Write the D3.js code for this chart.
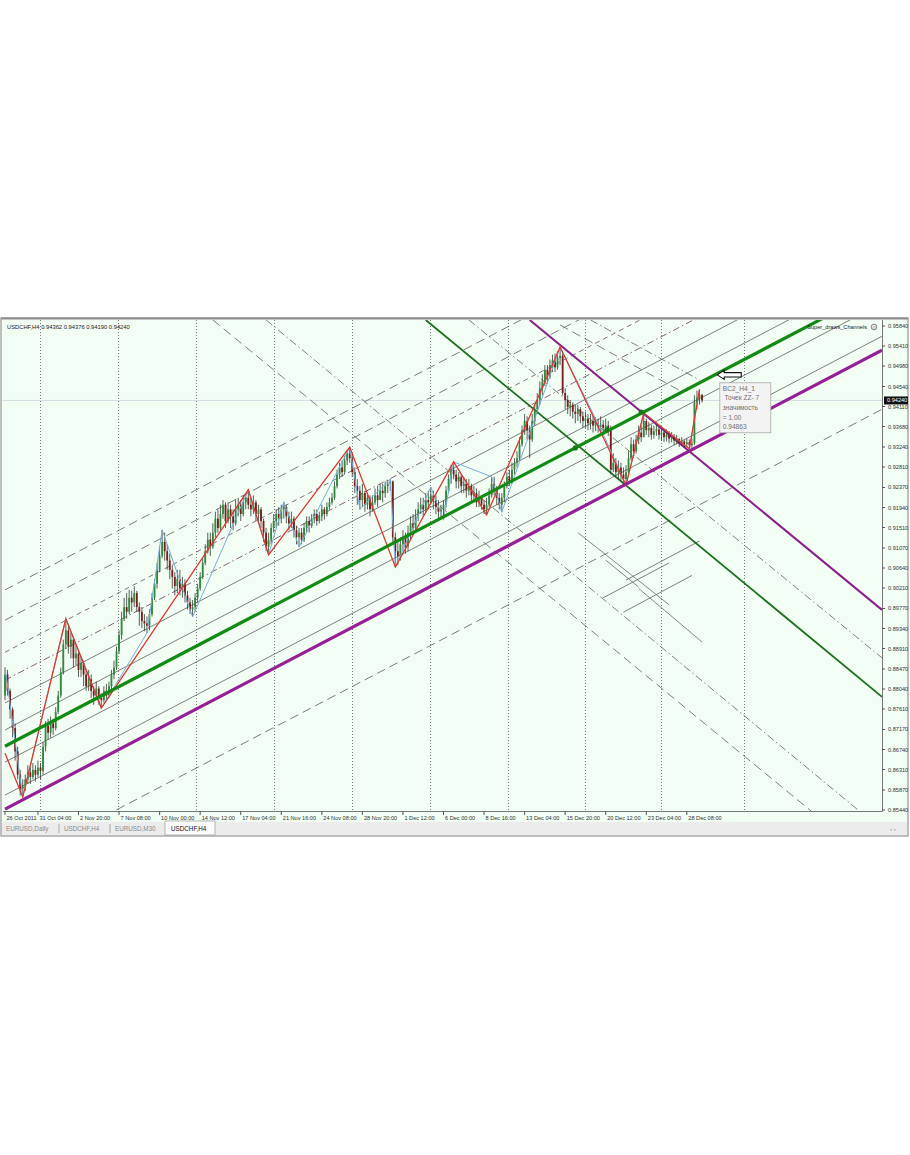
<!DOCTYPE html>
<html>
<head>
<meta charset="utf-8">
<script src="https://cdn.jsdelivr.net/npm/d3@7"></script>
<style>
body { margin: 0; background: #fff; }
text { font-family: "Liberation Sans", Arial, sans-serif; }
</style>
</head>
<body>
<svg id="chart" width="910" height="1155"></svg>
<script>
//Prices are kept in 1/10000 units (9424 = 0.94240)
const firstOpen = 8790
const closes = [
  8835,8800,8760,8720,8670,8620,8590,8595,8610,8625,
  8615,8630,8620,8635,8628,8680,8725,8710,8730,8720,
  8755,8790,8840,8900,8930,8895,8910,8870,8880,8845,
  8860,8835,8810,8825,8800,8790,8805,8785,8780,8800,
  8790,8810,8835,8850,8885,8920,8955,8980,8970,9000,
  8990,9010,8980,8970,8950,8945,8940,8965,9000,9030,
  9060,9090,9120,9100,9080,9060,9045,9025,9040,9020,
  9030,9005,8990,8975,8980,9000,9020,9045,9075,9100,
  9125,9110,9140,9170,9150,9180,9200,9165,9190,9175,
  9160,9190,9200,9180,9205,9215,9200,9190,9205,9180,
  9190,9165,9140,9110,9125,9150,9165,9180,9170,9190,
  9195,9175,9160,9170,9145,9130,9140,9125,9150,9165,
  9155,9170,9180,9165,9175,9190,9180,9195,9205,9215,
  9240,9265,9280,9270,9295,9310,9300,9270,9240,9230,
  9210,9225,9200,9215,9190,9205,9220,9210,9230,9225,
  9240,9245,9250,9130,9100,9090,9115,9130,9110,9140,
  9160,9150,9175,9190,9200,9190,9210,9205,9220,9210,
  9195,9185,9190,9200,9230,9255,9275,9265,9250,9260,
  9240,9245,9230,9240,9220,9225,9205,9215,9200,9190,
  9200,9220,9245,9230,9215,9200,9215,9240,9260,9250,
  9275,9290,9300,9330,9360,9380,9360,9340,9380,9405,
  9425,9450,9465,9490,9475,9500,9510,9495,9515,9520,
  9440,9425,9410,9415,9400,9395,9405,9390,9380,9385,
  9375,9380,9370,9375,9368,9372,9365,9370,9360,9275,
  9290,9270,9280,9265,9255,9270,9300,9330,9315,9340,
  9355,9345,9380,9360,9365,9350,9358,9362,9350,9355,
  9345,9350,9342,9346,9338,9342,9332,9336,9330,9334,
  9328,9332,9420,9430,9436,9424
]
const highs = [
  8850,8845,8805,8765,8730,8680,8630,8610,8620,8640,
  8635,8645,8640,8650,8645,8690,8735,8740,8745,8740,
  8765,8800,8850,8910,8955,8940,8925,8915,8900,8885,
  8875,8865,8845,8845,8835,8810,8820,8810,8795,8810,
  8815,8820,8845,8865,8895,8930,8970,9000,9010,9017,
  9015,9025,9015,8990,8980,8965,8960,8975,9010,9040,
  9075,9110,9146,9140,9115,9095,9070,9055,9060,9060,
  9045,9040,9015,9000,8995,9010,9030,9055,9085,9115,
  9140,9140,9160,9185,9190,9200,9210,9205,9205,9200,
  9190,9210,9215,9210,9220,9225,9232,9215,9220,9210,
  9200,9195,9170,9150,9140,9160,9180,9190,9195,9200,
  9206,9200,9185,9185,9175,9155,9150,9150,9160,9175,
  9175,9180,9190,9190,9185,9200,9195,9205,9215,9225,
  9250,9275,9290,9295,9305,9318,9324,9310,9280,9255,
  9240,9245,9230,9225,9220,9220,9235,9240,9245,9245,
  9250,9253,9255,9252,9140,9120,9130,9145,9140,9155,
  9175,9180,9190,9205,9215,9215,9225,9230,9238,9230,
  9220,9210,9200,9210,9240,9265,9285,9292,9275,9270,
  9265,9260,9255,9255,9245,9240,9235,9230,9220,9210,
  9215,9235,9260,9260,9240,9225,9225,9250,9270,9275,
  9290,9300,9315,9345,9370,9395,9390,9370,9395,9415,
  9440,9465,9480,9500,9500,9512,9522,9525,9530,9539,
  9525,9450,9435,9425,9420,9415,9415,9410,9400,9400,
  9395,9395,9390,9388,9385,9390,9382,9385,9380,9370,
  9310,9300,9295,9290,9280,9285,9315,9345,9340,9350,
  9370,9370,9397,9385,9378,9372,9370,9376,9368,9366,
  9360,9362,9358,9356,9352,9350,9342,9345,9340,9342,
  9340,9342,9435,9445,9448,9438
]
const lows = [
  8780,8790,8740,8700,8650,8610,8575,8572,8585,8600,
  8600,8610,8605,8615,8610,8620,8670,8695,8700,8705,
  8715,8750,8785,8835,8890,8880,8870,8850,8855,8830,
  8830,8810,8800,8800,8785,8770,8780,8770,8763,8775,
  8780,8785,8800,8825,8845,8880,8910,8950,8955,8965,
  8970,8980,8970,8940,8935,8928,8924,8930,8960,8995,
  9020,9055,9085,9080,9060,9040,9020,9005,9010,9005,
  9000,8990,8975,8965,8959,8970,8990,9015,9040,9070,
  9095,9090,9105,9130,9140,9145,9170,9150,9160,9150,
  9145,9155,9175,9165,9175,9190,9190,9175,9180,9165,
  9160,9150,9120,9100,9092,9115,9140,9150,9155,9160,
  9170,9160,9145,9150,9130,9115,9109,9115,9120,9140,
  9140,9150,9160,9155,9160,9165,9168,9175,9190,9200,
  9210,9235,9255,9260,9265,9285,9290,9260,9225,9200,
  9190,9195,9185,9190,9175,9185,9200,9195,9210,9205,
  9215,9225,9230,9120,9066,9070,9080,9100,9095,9100,
  9125,9135,9140,9165,9180,9175,9185,9190,9200,9190,
  9180,9170,9170,9167,9195,9225,9245,9255,9235,9235,
  9225,9225,9215,9220,9205,9205,9195,9195,9190,9180,
  9178,9195,9215,9220,9200,9190,9184,9205,9235,9240,
  9245,9265,9280,9295,9325,9350,9340,9300,9335,9370,
  9395,9415,9435,9455,9460,9470,9485,9485,9490,9500,
  9435,9405,9395,9390,9385,9375,9380,9375,9365,9365,
  9360,9362,9355,9358,9355,9358,9352,9355,9348,9265,
  9270,9260,9255,9250,9248,9242,9265,9295,9300,9310,
  9330,9335,9345,9350,9345,9340,9342,9348,9340,9338,
  9335,9336,9332,9334,9328,9330,9324,9326,9322,9324,
  9320,9322,9328,9405,9415,9419
]

//Zigzag turning points [bar, price]
const redZigzag = [[0,8666],[7,8572],[24,8955],[38,8763],[96,9232],[104,9092],[136,9324],
  [154,9066],[177,9292],[190,9178],[219,9539],[245,9242],[252,9397],[270,9320],[274,9448]]
const blueZigzag = [[0,8851],[7,8572],[24,8955],[38,8763],[56,8924],[62,9146],[74,8959],
  [96,9232],[104,9092],[110,9206],[116,9109],[136,9324],[140,9190],[152,9255],[154,9066],
  [168,9238],[173,9167],[177,9292],[192,9260],[196,9184],[219,9539],[236,9352],[245,9242],
  [252,9397],[270,9320],[274,9448]]

//Rising channel lines [bar1, price1, bar2, price2]
const upGreen = [[0,8681,346,9667]]
const upPurple = [[0,8546,346,9532]]
const upThin = [[0,8774,346,9760],[0,8716,346,9702],[0,8647,346,9633],[0,8576,346,9562],
  [244,8969,271,9048],[245,9038,274,9122],[236,9000,262,9075]]
const upLongDash = [[0,9017,346,10003],[0,8952,346,9938],[0,8419,346,9405]]
const upDash = [[0,8883,346,9869]]
const upDashDot = [[0,8823,346,9809]]

//Falling channel lines
const downGreen = [[166,9597,346,8787]]
const downPurple = [[207,9597,346,8974]]
const downLongDash = [[82,9597,318,8542],[219,9586,266,9446]]
const downDashDot = [[103,9597,337,8542],[183,9597,346,8871],[231,9597,274,9468]]
const downThin = [[237,9081,250,9023],[226,9140,262,8985],[250,9020,275,8905]]

//Touch points on the green channel line
const touchDots = [[225,9322],[237.5,9361],[251,9399]]

const gridBars = [14,44.5,75.5,106,137,167.5,198.5,229,259,291.5]
const timeLabelBars = [0,13,29,45,61,77,93,109,125,141,157,173,189,205,221,237,253,269]
const timeLabels = ["26 Oct 2011","31 Oct 04:00","2 Nov 20:00","7 Nov 08:00","10 Nov 00:00",
  "14 Nov 12:00","17 Nov 04:00","21 Nov 16:00","24 Nov 08:00","28 Nov 20:00","1 Dec 12:00",
  "6 Dec 00:00","8 Dec 16:00","13 Dec 04:00","15 Dec 20:00","20 Dec 12:00","23 Dec 04:00","28 Dec 08:00"]
const priceTicks = [0.95840,0.95410,0.94980,0.94540,0.94110,0.93680,0.93240,0.92810,0.92370,
  0.91940,0.91510,0.91070,0.90640,0.90210,0.89770,0.89340,0.88910,0.88470,0.88040,0.87610,
  0.87170,0.86740,0.86310,0.85870,0.85440]
const lastPrice = 0.94240
const header = "USDCHF,H4  0.94362 0.94376 0.94190 0.94240"
const tipLines = ["BC2_H4_1", " Точек ZZ- 7", "значимость", "= 1.00", "0.94863"]
const tipAnchor = [282, 9462]
const arrowAnchor = [281, 9479]
const tabs = ["EURUSD,Daily", "USDCHF,H4", "EURUSD,M30", "USDCHF,H4"]

//plot box inside the window
let plot = { left: 3, right: 882, top: 320, bottom: 811 }

const svg = d3.select("#chart")

const x = d3.scaleLinear().domain([0, 346]).range([5, 882])
const y = d3.scaleLinear().domain([8544, 9584]).range([810, 326])

//window frame
svg.append("rect").attr("x", 1).attr("y", 318).attr("width", 907).attr("height", 518)
  .attr("fill", "#f2fdf4").attr("stroke", "#a9a9a9").attr("stroke-width", 1.5)
svg.append("line").attr("x1", 1).attr("x2", 908).attr("y1", 318.5).attr("y2", 318.5)
  .attr("stroke", "#8d8d8d").attr("stroke-width", 2)

svg.append("clipPath").attr("id", "plotClip")
  .append("rect").attr("x", plot.left).attr("y", plot.top)
  .attr("width", plot.right - plot.left).attr("height", plot.bottom - plot.top)

let g = svg.append("g").attr("clip-path", "url(#plotClip)")

//vertical dotted grid
g.selectAll(".grid").data(gridBars).join("line")
  .attr("x1", d => Math.round(x(d)) + 0.5).attr("x2", d => Math.round(x(d)) + 0.5)
  .attr("y1", plot.top).attr("y2", plot.bottom)
  .attr("stroke", "#7b7b7b").attr("stroke-width", 1).attr("stroke-dasharray", "1,2")

//bid line
g.append("line").attr("x1", plot.left).attr("x2", plot.right)
  .attr("y1", y(lastPrice * 1e4)).attr("y2", y(lastPrice * 1e4))
  .attr("stroke", "#c9d6dc").attr("stroke-width", 0.8)

function drawLines(data, color, width, dash) {
  g.append("g").selectAll("line").data(data).join("line")
    .attr("x1", d => x(d[0])).attr("y1", d => y(d[1]))
    .attr("x2", d => x(d[2])).attr("y2", d => y(d[3]))
    .attr("stroke", color).attr("stroke-width", width)
    .attr("stroke-dasharray", dash)
}

drawLines(upLongDash, "#5a5a5a", 0.8, "9,5")
drawLines(upDash, "#6a4a60", 0.8, "5,4")
drawLines(upDashDot, "#6a3a5a", 0.8, "7,3,1.5,3")
drawLines(upThin, "#5f5f5f", 0.8, null)
drawLines(downLongDash, "#5f5f5f", 0.8, "9,5")
drawLines(downDashDot, "#5f5f5f", 0.8, "8,3,1.5,3")
drawLines(downThin, "#6a6a6a", 0.8, null)
drawLines(downGreen, "#1f6e1f", 1.8, null)
drawLines(downPurple, "#8a1f8a", 2, null)

//candles
const bars = closes.map((c, i) => ({ i: i, o: i ? closes[i - 1] : firstOpen, h: highs[i], l: lows[i], c: c }))

g.append("g").selectAll("line").data(bars).join("line")
  .attr("x1", d => x(d.i)).attr("x2", d => x(d.i))
  .attr("y1", d => y(d.h)).attr("y2", d => y(d.l))
  .attr("stroke", "#303830").attr("stroke-width", 0.8)

g.append("g").selectAll("rect").data(bars).join("rect")
  .attr("x", d => x(d.i) - 0.9).attr("width", 1.8)
  .attr("y", d => y(Math.max(d.o, d.c)))
  .attr("height", d => Math.max(0.8, Math.abs(y(d.o) - y(d.c))))
  .attr("fill", d => d.c >= d.o ? "#2f8a3c" : "#7a1c1c")

//zigzags
let zz = d3.line().x(d => x(d[0])).y(d => y(d[1]))
g.append("path").attr("d", zz(blueZigzag)).attr("fill", "none")
  .attr("stroke", "#79aed6").attr("stroke-width", 1)
g.append("path").attr("d", zz(redZigzag)).attr("fill", "none")
  .attr("stroke", "#d83a32").attr("stroke-width", 1.3)

//main channel lines on top
drawLines(upGreen, "#138a13", 3.2, null)
drawLines(upPurple, "#951f95", 3.2, null)

g.selectAll(".dot").data(touchDots).join("circle")
  .attr("cx", d => x(d[0])).attr("cy", d => y(d[1])).attr("r", 2.6)
  .attr("fill", "#137a13")

//axes lines
svg.append("line").attr("x1", plot.right + 0.5).attr("x2", plot.right + 0.5)
  .attr("y1", plot.top).attr("y2", plot.bottom + 0.5).attr("stroke", "#777").attr("stroke-width", 1)
svg.append("line").attr("x1", plot.left).attr("x2", plot.right)
  .attr("y1", plot.bottom + 0.5).attr("y2", plot.bottom + 0.5).attr("stroke", "#777").attr("stroke-width", 1)

//price axis
let py = svg.append("g").selectAll("g").data(priceTicks).join("g")
  .attr("transform", d => "translate(" + plot.right + "," + y(d * 1e4) + ")")
py.append("line").attr("x1", 0).attr("x2", 3).attr("stroke", "#555")
py.append("text").attr("x", 6).attr("y", 2).attr("font-size", 5.6).attr("fill", "#333")
  .text(d => d.toFixed(5))

//current price box
svg.append("rect").attr("x", plot.right + 2).attr("y", y(lastPrice * 1e4) - 4)
  .attr("width", 24).attr("height", 8).attr("fill", "#111")
svg.append("text").attr("x", plot.right + 5).attr("y", y(lastPrice * 1e4) + 2)
  .attr("font-size", 5.6).attr("fill", "#fff").text(lastPrice.toFixed(5))

//time axis
let tx = svg.append("g").selectAll("g").data(timeLabelBars).join("g")
  .attr("transform", d => "translate(" + x(d) + "," + plot.bottom + ")")
tx.append("line").attr("y1", 0).attr("y2", 4).attr("stroke", "#555")
tx.append("text").attr("x", 1.5).attr("y", 9).attr("font-size", 5.6).attr("fill", "#333")
  .text((d, i) => timeLabels[i])

//titles
svg.append("text").attr("x", 7).attr("y", 329).attr("font-size", 5.8).attr("fill", "#222")
  .text(header)
svg.append("text").attr("x", 867).attr("y", 329).attr("font-size", 5.6).attr("fill", "#222")
  .attr("text-anchor", "end").text("Super_draws_Channels")
svg.append("circle").attr("cx", 874).attr("cy", 327).attr("r", 2.8)
  .attr("fill", "none").attr("stroke", "#333").attr("stroke-width", 0.6)
svg.append("text").attr("x", 874).attr("y", 329).attr("font-size", 5).attr("text-anchor", "middle")
  .attr("fill", "#333").text("☺")

//arrow pointing to the channel
let ax = x(arrowAnchor[0]), ay = y(arrowAnchor[1])
svg.append("path")
  .attr("d", "M" + ax + "," + ay + " l7,-4.5 v2.3 h17 v4.4 h-17 v2.3 z")
  .attr("fill", "#fff").attr("stroke", "#111").attr("stroke-width", 1.1)

//tooltip box
let tipX = x(tipAnchor[0]), tipY = y(tipAnchor[1])
svg.append("rect").attr("x", tipX).attr("y", tipY).attr("width", 51).attr("height", 50)
  .attr("fill", "#f3f3f3").attr("stroke", "#a8a8a8").attr("stroke-width", 0.8)
svg.append("g").selectAll("text").data(tipLines).join("text")
  .attr("x", tipX + 3).attr("y", (d, i) => tipY + 8 + i * 9.6)
  .attr("font-size", 6.6).attr("fill", "#707070").attr("xml:space", "preserve")
  .text(d => d)

//tab bar
svg.append("rect").attr("x", 2).attr("y", 822).attr("width", 905).attr("height", 13)
  .attr("fill", "#ececec")
let tabX = [6, 64, 115, 171]
svg.append("rect").attr("x", 165).attr("y", 821).attr("width", 50).attr("height", 14)
  .attr("fill", "#fbfbfb").attr("stroke", "#9a9a9a").attr("stroke-width", 0.7)
svg.append("g").selectAll("text").data(tabs).join("text")
  .attr("x", (d, i) => tabX[i]).attr("y", 831).attr("font-size", 6.3)
  .attr("fill", (d, i) => i == 3 ? "#111" : "#8a8a8a").text(d => d)
svg.append("g").selectAll("line").data([59, 110]).join("line")
  .attr("x1", d => d).attr("x2", d => d).attr("y1", 824).attr("y2", 833)
  .attr("stroke", "#aaa")
svg.append("text").attr("x", 890).attr("y", 831).attr("font-size", 6).attr("fill", "#888").text("‹  ›")
</script>
</body>
</html>
